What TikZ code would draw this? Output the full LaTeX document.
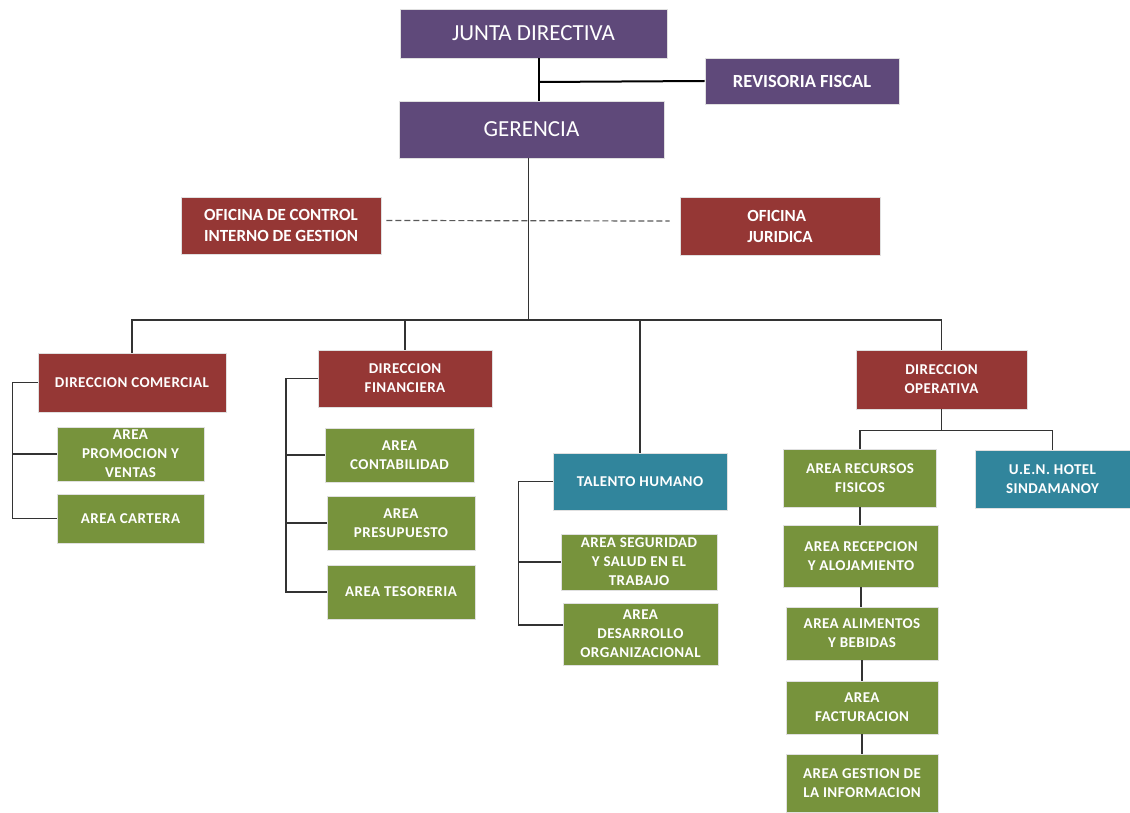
\documentclass[tikz,border=0pt]{standalone}
\usepackage{fontspec}
\setmainfont{Carlito}
\newfontfamily\cajafont[LetterSpace=3]{Carlito}
\usetikzlibrary{calc}
\definecolor{morado}{HTML}{5F497A}
\definecolor{rojo}{HTML}{953735}
\definecolor{verde}{HTML}{77933C}
\definecolor{azul}{HTML}{31859C}
\tikzset{
	caja/.style={draw=black!12, line width=0.6pt, text=white, align=center, inner sep=0pt, font=\cajafont\bfseries\fontsize{15}{19}\selectfont},
	grande/.style={caja, fill=morado, font=\fontsize{23}{26}\selectfont},
	oficina/.style={caja, fill=rojo, minimum width=200pt, font=\bfseries\fontsize{17}{21}\selectfont},
	direccion/.style={caja, fill=rojo},
	area/.style={caja, fill=verde},
	unidad/.style={caja, fill=azul},
	linea/.style={draw=black!80, line width=1.2pt},
}

\begin{document}
\begin{tikzpicture}[x=1pt, y=-1pt]
		%%%%% START %%%%%
		\useasboundingbox (0, 0) rectangle (1130, 813);
		
		\node[grande, minimum width=267pt, minimum height=49pt] (junta) at (533.5, 33.5) {JUNTA DIRECTIVA};
		\node[caja, fill=morado, minimum width=194pt, minimum height=46pt, font=\bfseries\fontsize{18.5}{21}\selectfont] (revisoria) at (802, 81) {REVISORIA FISCAL};
		\node[grande, minimum width=265pt, minimum height=57pt] (gerencia) at (531.5, 129.5) {GERENCIA};
		
		\node[oficina, minimum height=57pt] (control) at (281, 225.5) {OFICINA DE CONTROL\\INTERNO DE GESTION};
		\node[oficina, minimum height=58pt, align=left] (juridica) at (780, 226) {OFICINA\\JURIDICA};
		
		\node[direccion, minimum width=188pt, minimum height=59pt] (comercial) at (132, 382.5) {DIRECCION COMERCIAL};
		\node[area, minimum width=147pt, minimum height=54pt] (promocion) at (130.5, 454) {AREA\\PROMOCION Y\\VENTAS};
		\node[area, minimum width=147pt, minimum height=49pt] (cartera) at (130.5, 518.5) {AREA CARTERA};
		
		\node[direccion, minimum width=174pt, minimum height=57pt] (financiera) at (405, 378.5) {DIRECCION\\FINANCIERA};
		\node[area, minimum width=149pt, minimum height=54pt] (contabilidad) at (399.5, 455) {AREA\\CONTABILIDAD};
		\node[area, minimum width=148pt, minimum height=54pt] (presupuesto) at (401, 523) {AREA\\PRESUPUESTO};
		\node[area, minimum width=148pt, minimum height=54pt] (tesoreria) at (401, 592) {AREA TESORERIA};
		
		\node[unidad, minimum width=174pt, minimum height=57pt] (talento) at (640, 481.5) {TALENTO HUMANO};
		\node[area, minimum width=156pt, minimum height=56pt] (seguridad) at (639, 562) {AREA SEGURIDAD\\Y SALUD EN EL\\TRABAJO};
		\node[area, minimum width=155pt, minimum height=62pt] (desarrollo) at (640.5, 634) {AREA\\DESARROLLO\\ORGANIZACIONAL};
		
		\node[direccion, minimum width=171pt, minimum height=59pt] (operativa) at (941.5, 379.5) {DIRECCION\\OPERATIVA};
		\node[area, minimum width=153pt, minimum height=58pt] (recursos) at (860, 478) {AREA RECURSOS\\FISICOS};
		\node[unidad, minimum width=155pt, minimum height=58pt] (hotel) at (1052.5, 479) {U.E.N. HOTEL\\SINDAMANOY};
		\node[area, minimum width=155pt, minimum height=62pt] (recepcion) at (861, 556) {AREA RECEPCION\\Y ALOJAMIENTO};
		\node[area, minimum width=152pt, minimum height=53pt] (alimentos) at (862, 633.5) {AREA ALIMENTOS\\Y BEBIDAS};
		\node[area, minimum width=152pt, minimum height=53pt] (facturacion) at (862, 707.5) {AREA\\FACTURACION};
		\node[area, minimum width=152pt, minimum height=58pt] (gestion) at (862, 783) {AREA GESTION DE\\LA INFORMACION};
		
		% junta - gerencia - revisoria
		\coordinate (jg) at (539, 82);
		\draw[line width=2pt] (jg |- junta.south) -- (jg |- gerencia.north);
		\draw[line width=2pt] (jg) -- (revisoria.west);
		
		% oficinas
		\draw[draw=black!65, line width=1.2pt, dash pattern=on 6pt off 3pt] ($(control.east)+(5, -5)$) -- ($(juridica.west)+(-10, -5)$);
		
		% bus principal
		\coordinate (bus) at (528.5, 320);
		\draw[linea] (bus |- gerencia.south) -- (bus);
		\draw[linea] (comercial.north) |- (bus) -| (operativa.north);
		\draw[linea] (financiera.north) -- (financiera.north |- bus);
		\draw[linea] (talento.north) -- (talento.north |- bus);
		
		% direccion comercial
		\coordinate (sc) at (12.5, 0);
		\draw[linea] (comercial.west) -- (comercial.west -| sc) -- (cartera.west -| sc) -- (cartera.west);
		\draw[linea] (promocion.west -| sc) -- (promocion.west);
		
		% direccion financiera
		\coordinate (sf) at (286, 0);
		\draw[linea] (financiera.west) -- (financiera.west -| sf) -- (tesoreria.west -| sf) -- (tesoreria.west);
		\draw[linea] (contabilidad.west -| sf) -- (contabilidad.west);
		\draw[linea] (presupuesto.west -| sf) -- (presupuesto.west);
		
		% talento humano
		\coordinate (st) at (518.5, 0);
		\coordinate (dt) at ($(desarrollo.west)+(0, -9)$);
		\draw[linea] (talento.west) -- (talento.west -| st) -- (dt -| st) -- (dt);
		\draw[linea] (seguridad.west -| st) -- (seguridad.west);
		
		% direccion operativa
		\draw[linea] (operativa.south) -- ++(0, 21) coordinate (ob);
		\draw[linea] (recursos.north) |- (ob) -| (hotel.north);
		\draw[linea] (recursos.south) -- (recursos.south |- recepcion.north);
		\draw[linea] (recepcion.south) -- (recepcion.south |- alimentos.north);
		\draw[linea] (alimentos.south) -- (facturacion.north);
		\draw[linea] (facturacion.south) -- (gestion.north);
		
		%%%%% END %%%%%
\end{tikzpicture}
\end{document}
